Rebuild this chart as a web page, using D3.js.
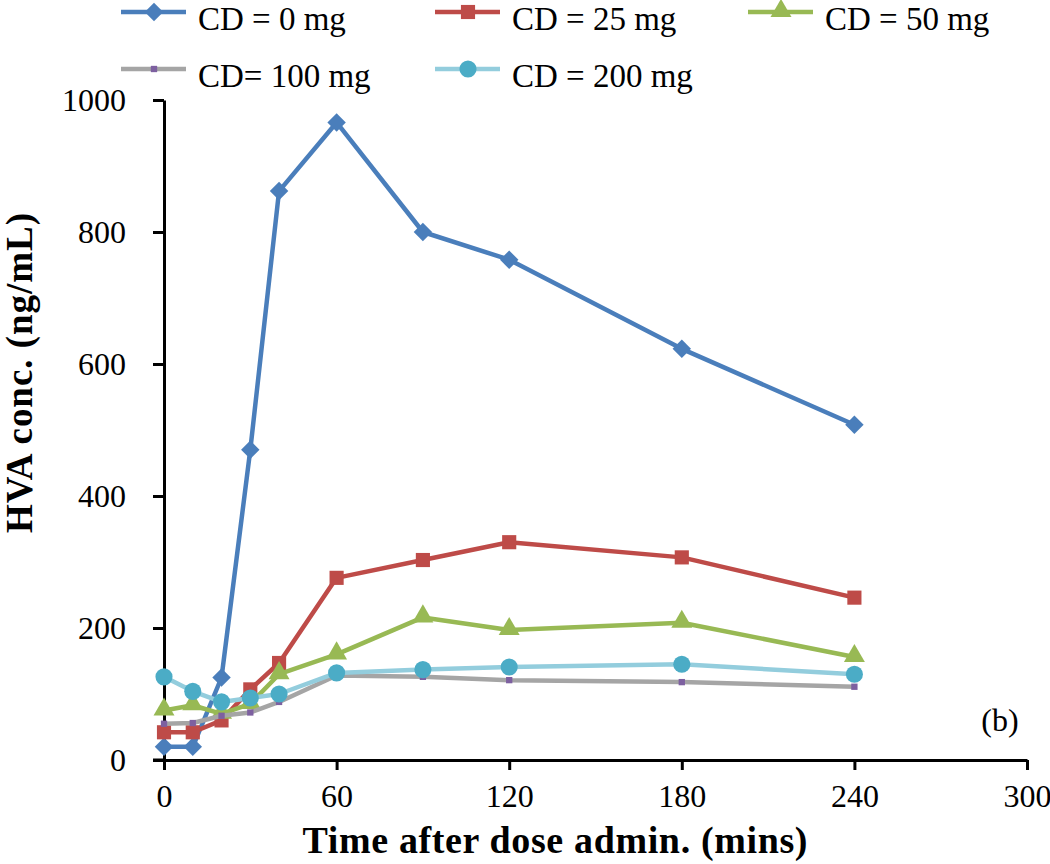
<!DOCTYPE html>
<html>
<head>
<meta charset="utf-8">
<script src="https://cdn.jsdelivr.net/npm/d3@7"></script>
<style>
  body { margin: 0; background: #fff; }
  svg text { font-family: "Liberation Serif", "Times New Roman", serif; fill: #000; }
</style>
</head>
<body>
<div id="chart"></div>
<script>
// sampling times (mins)
var times = [0, 10, 20, 30, 40, 60, 90, 120, 180, 240];

// HVA concentration (ng/mL) per carbidopa dose
var cd0   = [20, 20, 125, 470, 862, 966, 800, 758, 623, 508];
var cd25  = [42, 42, 60, 107, 147, 276, 303, 330, 307, 246];
var cd50  = [75, 83, 70, 85, 130, 160, 216, 197, 208, 156];
var cd100 = [55, 56, 67, 72, 88, 128, 126, 121, 118, 111];
var cd200 = [126, 104, 88, 94, 100, 132, 137, 141, 145, 130];

var seriesNames = ["CD = 0 mg", "CD = 25 mg", "CD = 50 mg", "CD= 100 mg", "CD = 200 mg"];
var xTicks = [0, 60, 120, 180, 240, 300];
var yTicks = [0, 200, 400, 600, 800, 1000];

var styles = [
	{line: "#4a7ebb", fill: "#4a7ebb", shape: "diamond"},
	{line: "#be4b48", fill: "#be4b48", shape: "square"},
	{line: "#98b954", fill: "#98b954", shape: "triangle"},
	{line: "#a5a5a5", fill: "#7d60a0", shape: "small"},
	{line: "#93cddd", fill: "#4bacc6", shape: "circle"}
];

var series = [cd0, cd25, cd50, cd100, cd200].map(function(vals, i) {
	return {
		name: seriesNames[i],
		style: styles[i],
		points: vals.map(function(v, j) { return {t: times[j], v: v}; })
	};
});

var width = 1050, height = 864;
var x0 = 164, x1 = 1027, y0 = 760, y1 = 100;

var x = d3.scaleLinear().domain([0, 300]).range([x0, x1]);
var y = d3.scaleLinear().domain([0, 1000]).range([y0, y1]);

var svg = d3.select("#chart").append("svg")
	.attr("width", width)
	.attr("height", height);

function markerPath(shape) {
	if (shape == "diamond") return d3.symbol().type(d3.symbolSquare).size(170)();
	if (shape == "square") return d3.symbol().type(d3.symbolSquare).size(200)();
	if (shape == "triangle") return d3.symbol().type(d3.symbolTriangle).size(190)();
	if (shape == "circle") return d3.symbol().type(d3.symbolCircle).size(230)();
	return d3.symbol().type(d3.symbolSquare).size(40)();
}

function markerTransform(shape, px, py) {
	var t = "translate(" + px + "," + py + ")";
	if (shape == "diamond") t += " rotate(45)";
	if (shape == "triangle") t += " translate(0,-1)";
	return t;
}

// axes
var xAxis = d3.axisBottom(x).tickValues(xTicks).tickSize(10).tickSizeOuter(0).tickPadding(14)
	.tickFormat(d3.format("d"));
var yAxis = d3.axisLeft(y).tickValues(yTicks).tickSize(11).tickSizeOuter(0).tickPadding(27)
	.tickFormat(d3.format("d"));

var gx = svg.append("g")
	.attr("transform", "translate(0," + y0 + ")")
	.call(xAxis);
var gy = svg.append("g")
	.attr("transform", "translate(" + x0 + ",0)")
	.call(yAxis);

[gx, gy].forEach(function(g) {
	g.select(".domain").attr("stroke", "#000").attr("stroke-width", 3);
	g.selectAll(".tick line").attr("stroke", "#000").attr("stroke-width", 3);
	g.selectAll(".tick text")
		.style("font-family", '"Liberation Serif", serif')
		.style("font-size", "32px")
		.attr("fill", "#000");
});
// extend x axis line left under the y tick at 0
gx.append("line")
	.attr("x1", x0 - 11).attr("x2", x0)
	.attr("stroke", "#000").attr("stroke-width", 3);

// lines and markers
var line = d3.line()
	.x(function(d) { return x(d.t); })
	.y(function(d) { return y(d.v); });

var gdata = svg.append("g").attr("class", "data");

series.forEach(function(s) {
	var g = gdata.append("g");
	g.append("path")
		.datum(s.points)
		.attr("d", line)
		.attr("fill", "none")
		.attr("stroke", s.style.line)
		.attr("stroke-width", 4.5)
		.attr("stroke-linejoin", "round");
	g.selectAll("path.mark")
		.data(s.points)
		.enter().append("path")
		.attr("class", "mark")
		.attr("d", markerPath(s.style.shape))
		.attr("transform", function(d) { return markerTransform(s.style.shape, x(d.t), y(d.v)); })
		.attr("fill", s.style.fill);
});

// axis titles
svg.append("text")
	.attr("x", 555)
	.attr("y", 853)
	.attr("text-anchor", "middle")
	.attr("textLength", 505)
	.attr("lengthAdjust", "spacing")
	.style("font-size", "38px")
	.style("font-weight", "bold")
	.text("Time after dose admin. (mins)");

svg.append("text")
	.attr("transform", "translate(32,373) rotate(-90)")
	.attr("text-anchor", "middle")
	.attr("textLength", 320)
	.attr("lengthAdjust", "spacing")
	.style("font-size", "37px")
	.style("font-weight", "bold")
	.text("HVA conc. (ng/mL)");

svg.append("text")
	.attr("x", 1000)
	.attr("y", 731)
	.attr("text-anchor", "middle")
	.style("font-size", "32px")
	.text("(b)");

// legend
var legendPos = [
	{lx: 121, ty: 12},
	{lx: 435, ty: 12},
	{lx: 748, ty: 12},
	{lx: 121, ty: 69},
	{lx: 435, ty: 69}
];

var legend = svg.append("g").attr("class", "legend");
series.forEach(function(s, i) {
	var p = legendPos[i];
	var g = legend.append("g");
	g.append("line")
		.attr("x1", p.lx).attr("x2", p.lx + 65)
		.attr("y1", p.ty).attr("y2", p.ty)
		.attr("stroke", s.style.line)
		.attr("stroke-width", 4.5);
	g.append("path")
		.attr("d", markerPath(s.style.shape))
		.attr("transform", markerTransform(s.style.shape, p.lx + 33, p.ty))
		.attr("fill", s.style.fill);
	g.append("text")
		.attr("x", p.lx + 77)
		.attr("y", p.ty + 18)
		.style("font-size", "33px")
		.text(s.name);
});
</script>
</body>
</html>
